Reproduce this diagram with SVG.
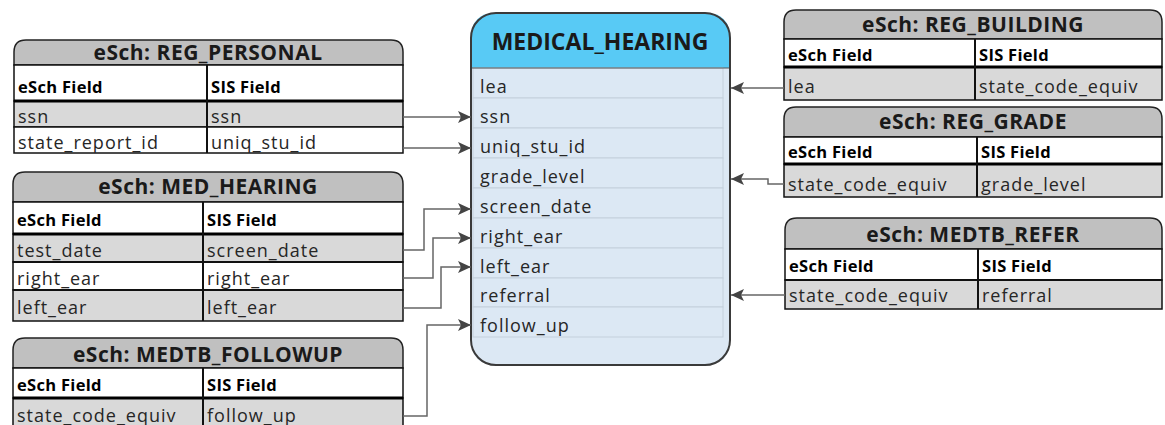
<svg xmlns="http://www.w3.org/2000/svg" width="1165" height="425" viewBox="0 0 1165 425">
<defs>
<style>
.hdr{fill:#c0c0c0;stroke:#222;stroke-width:1.5}
.w{fill:#fff;stroke:#111;stroke-width:1.5}
.g{fill:#d9d9d9;stroke:#111;stroke-width:1.5}
.thick{stroke:#000;stroke-width:3}
.div{stroke:#111;stroke-width:2}
.title{font-family:"Open Sans","Noto Sans",sans-serif;font-weight:bold;font-size:21px;text-anchor:middle;fill:#1a1a1a;letter-spacing:0.5px}
.ch{font-family:"Open Sans","Noto Sans",sans-serif;font-weight:bold;font-size:16.5px;letter-spacing:0.3px;fill:#000}
.d{font-family:"Open Sans","Noto Sans",sans-serif;font-size:18px;letter-spacing:1px;fill:#262626}
.mrow{fill:#dce8f4;stroke:#c4d0dc;stroke-width:1}
.conn path{fill:none;stroke:#666;stroke-width:1.5;marker-end:url(#arr)}
</style>
<marker id="arr" markerUnits="userSpaceOnUse" markerWidth="14" markerHeight="12" refX="13" refY="6" orient="auto">
<path d="M0,0 L13,6 L0,12 L3,6 Z" fill="#444"/>
</marker>
</defs>

<g id="reg_personal">
<path class="hdr" d="M14,65 V52 Q14,40 26,40 H391 Q403,40 403,52 V65 Z"/>
<rect class="w" x="14" y="65" width="389" height="36"/>
<rect class="g" x="14" y="101" width="389" height="26"/>
<rect class="w" x="14" y="127" width="389" height="26"/>
<line class="thick" x1="14" y1="101" x2="403" y2="101"/>
<line class="div" x1="207" y1="65" x2="207" y2="153"/>
<text class="title" x="208" y="60">eSch: REG_PERSONAL</text>
<text class="ch" x="18" y="93">eSch Field</text>
<text class="ch" x="211" y="93">SIS Field</text>
<text class="d" x="18" y="123">ssn</text>
<text class="d" x="211" y="123">ssn</text>
<text class="d" x="18" y="149">state_report_id</text>
<text class="d" x="211" y="149">uniq_stu_id</text>
</g>

<g id="med_hearing_src">
<path class="hdr" d="M13,202 V184 Q13,172 25,172 H391 Q403,172 403,184 V202 Z"/>
<rect class="w" x="13" y="202" width="390" height="32"/>
<rect class="g" x="13" y="234" width="390" height="28"/>
<rect class="w" x="13" y="262" width="390" height="28"/>
<rect class="g" x="13" y="290" width="390" height="31"/>
<line class="thick" x1="13" y1="234" x2="403" y2="234"/>
<line class="div" x1="13" y1="262" x2="403" y2="262"/>
<line class="div" x1="13" y1="290" x2="403" y2="290"/>
<line class="div" x1="203" y1="202" x2="203" y2="321"/>
<text class="title" x="208" y="194">eSch: MED_HEARING</text>
<text class="ch" x="17" y="226">eSch Field</text>
<text class="ch" x="207" y="226">SIS Field</text>
<text class="d" x="17" y="257">test_date</text>
<text class="d" x="207" y="257">screen_date</text>
<text class="d" x="17" y="285">right_ear</text>
<text class="d" x="207" y="285">right_ear</text>
<text class="d" x="17" y="314">left_ear</text>
<text class="d" x="207" y="314">left_ear</text>
</g>

<g id="medtb_followup">
<path class="hdr" d="M13,368 V350 Q13,338 25,338 H391 Q403,338 403,350 V368 Z"/>
<rect class="w" x="13" y="368" width="390" height="30"/>
<rect class="g" x="13" y="398" width="390" height="32"/>
<line class="thick" x1="13" y1="398" x2="403" y2="398"/>
<line class="div" x1="203" y1="368" x2="203" y2="430"/>
<text class="title" x="208" y="362">eSch: MEDTB_FOLLOWUP</text>
<text class="ch" x="17" y="391">eSch Field</text>
<text class="ch" x="207" y="391">SIS Field</text>
<text class="d" x="17" y="422">state_code_equiv</text>
<text class="d" x="207" y="422">follow_up</text>
</g>

<g id="medical_hearing">
<path d="M471,68 V38 Q471,13 496,13 H705 Q730,13 730,38 V68 Z" fill="#58caf5"/>
<path d="M471,68 H730 V340 Q730,365 705,365 H496 Q471,365 471,340 Z" fill="#dce8f4"/>
<rect class="mrow" x="473" y="68" width="250" height="30"/>
<rect class="mrow" x="473" y="98" width="250" height="30"/>
<rect class="mrow" x="473" y="128" width="250" height="30"/>
<rect class="mrow" x="473" y="158" width="250" height="30"/>
<rect class="mrow" x="473" y="188" width="250" height="30"/>
<rect class="mrow" x="473" y="218" width="250" height="30"/>
<rect class="mrow" x="473" y="248" width="250" height="30"/>
<rect class="mrow" x="473" y="278" width="250" height="29"/>
<rect class="mrow" x="473" y="307" width="250" height="30"/>
<line x1="471" y1="68" x2="730" y2="68" stroke="#555" stroke-width="1"/>
<rect x="471" y="13" width="259" height="352" rx="25" ry="25" fill="none" stroke="#3a3a3a" stroke-width="2"/>
<text x="600" y="50" font-family="'Open Sans','Noto Sans',sans-serif" font-weight="bold" font-size="23" text-anchor="middle" fill="#1a1a1a">MEDICAL_HEARING</text>
<text class="d" x="480" y="93">lea</text>
<text class="d" x="480" y="123">ssn</text>
<text class="d" x="480" y="153">uniq_stu_id</text>
<text class="d" x="480" y="183">grade_level</text>
<text class="d" x="480" y="213">screen_date</text>
<text class="d" x="480" y="243">right_ear</text>
<text class="d" x="480" y="273">left_ear</text>
<text class="d" x="480" y="302">referral</text>
<text class="d" x="480" y="332">follow_up</text>
</g>

<g id="reg_building">
<path class="hdr" d="M784,39 V22 Q784,10 796,10 H1150 Q1162,10 1162,22 V39 Z"/>
<rect class="w" x="784" y="39" width="378" height="28"/>
<rect class="g" x="784" y="67" width="378" height="33"/>
<line class="thick" x1="784" y1="67" x2="1162" y2="67"/>
<line class="div" x1="975" y1="39" x2="975" y2="100"/>
<text class="title" x="973" y="32">eSch: REG_BUILDING</text>
<text class="ch" x="788" y="61">eSch Field</text>
<text class="ch" x="979" y="61">SIS Field</text>
<text class="d" x="788" y="93">lea</text>
<text class="d" x="979" y="93">state_code_equiv</text>
</g>

<g id="reg_grade">
<path class="hdr" d="M784,137 V119 Q784,107 796,107 H1150 Q1162,107 1162,119 V137 Z"/>
<rect class="w" x="784" y="137" width="378" height="27"/>
<rect class="g" x="784" y="164" width="378" height="33"/>
<line class="thick" x1="784" y1="164" x2="1162" y2="164"/>
<line class="div" x1="977" y1="137" x2="977" y2="197"/>
<text class="title" x="973" y="129">eSch: REG_GRADE</text>
<text class="ch" x="788" y="158">eSch Field</text>
<text class="ch" x="981" y="158">SIS Field</text>
<text class="d" x="788" y="191">state_code_equiv</text>
<text class="d" x="981" y="191">grade_level</text>
</g>

<g id="medtb_refer">
<path class="hdr" d="M785,249 V230 Q785,218 797,218 H1150 Q1162,218 1162,230 V249 Z"/>
<rect class="w" x="785" y="249" width="377" height="31"/>
<rect class="g" x="785" y="280" width="377" height="29"/>
<line class="div" x1="785" y1="280" x2="1162" y2="280"/>
<line class="div" x1="978" y1="249" x2="978" y2="309"/>
<text class="title" x="973" y="242">eSch: MEDTB_REFER</text>
<text class="ch" x="789" y="272">eSch Field</text>
<text class="ch" x="982" y="272">SIS Field</text>
<text class="d" x="789" y="302">state_code_equiv</text>
<text class="d" x="982" y="302">referral</text>
</g>

<g id="connectors" class="conn">
<path d="M403,117 H471"/>
<path d="M403,148 H471"/>
<path d="M403,250 H424 V209 H471"/>
<path d="M403,278 H433 V238 H471"/>
<path d="M403,308 H441 V267 H471"/>
<path d="M403,416 H427 V325 H471"/>
<path d="M784,88 H731"/>
<path d="M784,184 H768 V179 H731"/>
<path d="M785,295 H731"/>
</g>
</svg>
